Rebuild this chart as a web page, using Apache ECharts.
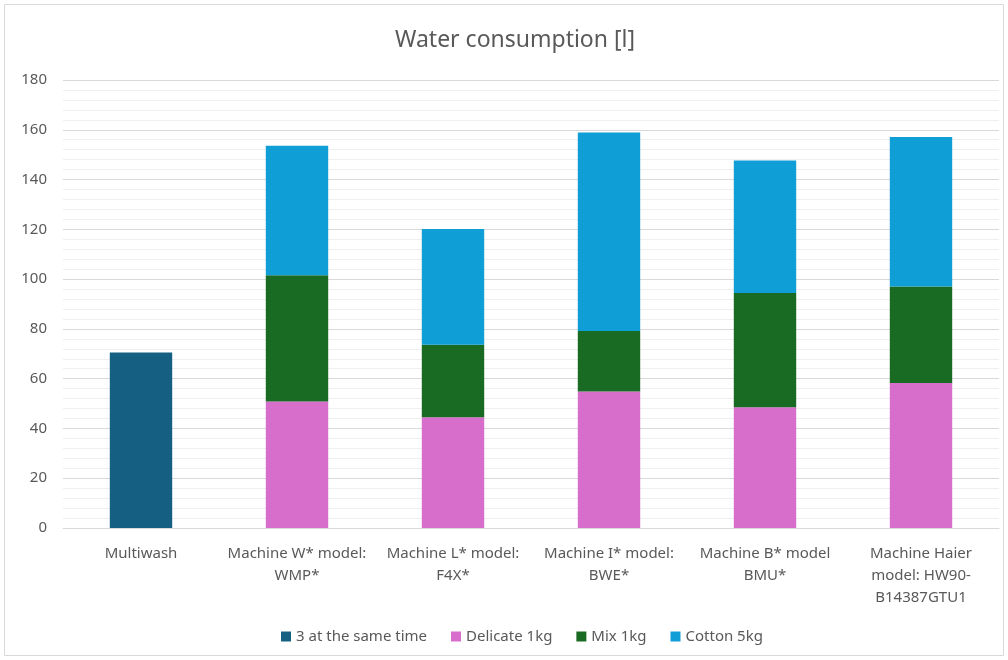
<!DOCTYPE html>
<html>
<head>
<meta charset="utf-8">
<script src="https://cdn.jsdelivr.net/npm/echarts@6/dist/echarts.min.js"></script>
<style>
  html, body { margin: 0; padding: 0; background: #ffffff; }
  #chart { width: 1008px; height: 660px; }
</style>
</head>
<body>
<div id="chart"></div>
<script>
// Machines compared and their axis labels
const categories = [
  'Multiwash',
  'Machine W* model:\nWMP*',
  'Machine L* model:\nF4X*',
  'Machine I* model:\nBWE*',
  'Machine B* model\nBMU*',
  'Machine Haier\nmodel: HW90-\nB14387GTU1'
];

// Water used per programme, litres
const allAtOnce = [70.5, null, null, null, null, null];
const delicate1kg = [null, 50.8, 44.5, 54.8, 48.5, 58.3];
const mix1kg = [null, 50.8, 29.1, 24.4, 45.9, 38.7];
const cotton5kg = [null, 52.0, 46.5, 79.7, 53.3, 60.1];

const seriesNames = ['3 at the same time', 'Delicate 1kg', 'Mix 1kg', 'Cotton 5kg'];
const seriesColors = ['#156082', '#D86ECC', '#196B24', '#0F9ED5'];
const seriesData = [allAtOnce, delicate1kg, mix1kg, cotton5kg];

const FONT = '"Noto Sans", "Open Sans", sans-serif';
const TEXT = '#595959';

const chart = echarts.init(document.getElementById('chart'), null, { renderer: 'canvas' });

chart.setOption({
  animation: false,
  textStyle: { fontFamily: FONT },
  title: {
    text: 'Water consumption [l]',
    left: 390,
    top: 24,
    textStyle: { fontFamily: FONT, fontSize: 23, fontWeight: 'normal', color: TEXT }
  },
  graphic: [{
    type: 'rect',
    shape: { x: 4.5, y: 4.5, width: 999, height: 651 },
    style: { fill: 'none', stroke: '#d9d9d9', lineWidth: 1 },
    silent: true
  }],
  legend: {
    bottom: 11,
    left: 276,
    itemWidth: 10,
    itemHeight: 10,
    itemGap: 24,
    icon: 'rect',
    textStyle: { fontFamily: FONT, fontSize: 15, color: TEXT },
    data: seriesNames
  },
  grid: { left: 63, right: 9, top: 80, bottom: 132, containLabel: false },
  xAxis: {
    type: 'category',
    data: categories,
    axisTick: { show: false },
    axisLine: { lineStyle: { color: '#d9d9d9', width: 1 } },
    axisLabel: {
      interval: 0,
      margin: 15,
      fontFamily: FONT,
      fontSize: 15,
      lineHeight: 22,
      color: TEXT
    }
  },
  yAxis: {
    type: 'value',
    min: 0,
    max: 180,
    interval: 20,
    axisLine: { show: false },
    axisTick: { show: false },
    axisLabel: { fontFamily: FONT, fontSize: 15, color: TEXT, margin: 16 },
    splitLine: { lineStyle: { color: '#d9d9d9', width: 1 } },
    minorTick: { show: false, splitNumber: 5 },
    minorSplitLine: { show: true, lineStyle: { color: '#efefef', width: 1 } }
  },
  series: seriesNames.map((name, i) => ({
    name: name,
    type: 'bar',
    stack: 'total',
    barWidth: '40%',
    data: seriesData[i],
    itemStyle: { color: seriesColors[i] }
  }))
});
</script>
</body>
</html>
